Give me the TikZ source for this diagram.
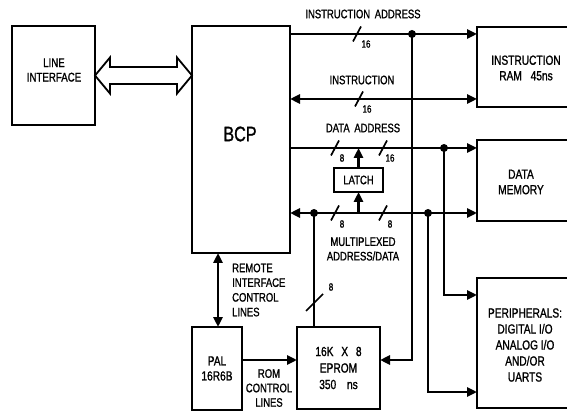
\documentclass[tikz,border=0pt]{standalone}
\usepackage{fontspec}
\setmainfont{Liberation Sans}[FakeStretch=0.77, FakeBold=1.2]
\usetikzlibrary{arrows.meta,calc}
\newcommand{\boxfnt}{\fontsize{13.2}{15.5}\selectfont}
\newcommand{\lblfnt}{\fontsize{12.3}{14.5}\selectfont}
\newcommand{\numfnt}{\fontsize{10.5}{11}\selectfont}
\newcommand{\bigfnt}{\fontsize{21}{22}\selectfont}
\begin{document}
\begin{tikzpicture}[x=1pt,y=-1pt,
  box/.style={draw, line width=2.6pt, outer sep=0pt, inner sep=0pt, align=center, font=\boxfnt},
  bus/.style={line width=2.6pt},
  tipend/.style={-{Triangle[length=10pt,width=9pt]}},
  tipboth/.style={{Triangle[length=10pt,width=9pt]}-{Triangle[length=10pt,width=9pt]}},
  txt/.style={align=center, font=\boxfnt, inner sep=0pt},
  lbl/.style={align=center, font=\lblfnt, inner sep=0pt},
  num/.style={font=\numfnt, inner sep=0pt},
  dot/.style={fill=black},
  busslash/.pic={\draw[line width=1.7pt] (-4,7.5) -- (4,-7.5);},
  wideslash/.pic={\draw[line width=1.7pt] (-8.5,8.5) -- (8.5,-8.5);}
]
\useasboundingbox (0,0) rectangle (567,411);
\clip (0,0) rectangle (567,411);

% levels
\coordinate (yIA) at (0,34);
\coordinate (yI) at (0,99);
\coordinate (yDA) at (0,148);
\coordinate (yM) at (0,213);
\coordinate (yE) at (0,360);
\coordinate (yP1) at (0,295);
\coordinate (yP2) at (0,392);
\coordinate (xr) at (218,0);

% boxes
\node[box, minimum width=83pt, minimum height=99pt] (li) at (53.5,75.5) {};
\node[txt, font=\fontsize{12.6}{14.5}\selectfont] at (54,70) {LINE\\INTERFACE};
\node[box, minimum width=98pt, minimum height=227pt] (bcp) at (241,139.5) {};
\node[font=\bigfnt, inner sep=0pt] at (240,134) {BCP};
\node[box, minimum width=103pt, minimum height=80pt] (iram) at (528.5,67) {};
\node[txt] at (526,68) {INSTRUCTION\\RAM\hspace{6pt} 45ns};
\node[box, minimum width=103pt, minimum height=81pt] (dmem) at (528.5,180.5) {};
\node[txt] at (521,182) {DATA\\MEMORY};
\node[box, minimum width=103pt, minimum height=130pt] (peri) at (528.5,343) {};
\node[txt, font=\fontsize{13.2}{16}\selectfont] at (525,345) {PERIPHERALS:\\DIGITAL I/O\\ANALOG I/O\\AND/OR\\UARTS};
\node[box, minimum width=49pt, minimum height=24pt, font=\lblfnt] (latch) at (358.5,180) {LATCH};
\node[box, minimum width=50pt, minimum height=83pt, font=\fontsize{13.2}{15}\selectfont] (pal) at (217,368.5) {PAL\\16R6B};
\node[box, minimum width=83pt, minimum height=82pt, font=\fontsize{13.2}{16.5}\selectfont] (eprom) at (338.5,368) {16K\hspace{5pt} X\hspace{5pt} 8\\EPROM\\350\hspace{8pt} ns};

% hollow double arrow
\path (li.east) coordinate (da1) (bcp.west |- li.east) coordinate (da2);
\draw[line width=1.8pt, line join=miter]
  (da1) -- ($(da1)+(15,-18)$) -- ($(da1)+(15,-8.5)$) -- ($(da2)+(-15,-8.5)$)
  -- ($(da2)+(-15,-18)$) -- (da2) -- ($(da2)+(-15,18)$) -- ($(da2)+(-15,8.5)$)
  -- ($(da1)+(15,8.5)$) -- ($(da1)+(15,18)$) -- cycle;

% buses
\draw[bus, tipend] (bcp.east |- yIA) -- (iram.west |- yIA);
\draw[bus, tipboth] (bcp.east |- yI) -- (iram.west |- yI);
\draw[bus, tipend] (bcp.east |- yDA) -- (dmem.west |- yDA);
\draw[bus, tipboth] (bcp.east |- yM) -- (dmem.west |- yM);

\coordinate (j1) at (412,34);
\coordinate (j2) at (444,148);
\coordinate (j3) at (314,213);
\coordinate (j4) at (428,213);
\draw[bus, tipend] (j1) |- (eprom.east |- yE);
\draw[bus, tipend] (j2) |- (peri.west |- yP1);
\draw[bus] (j3) -- (j3 |- eprom.north);
\draw[bus, tipend] (j4) |- (peri.west |- yP2);
\foreach \j in {j1,j2,j3,j4} \fill[dot] (\j) circle (4pt);

\draw[bus, tipend] (latch.north) -- (latch.north |- yDA);
\draw[bus, tipend] (latch.south |- yM) -- (latch.south);

\draw[bus, tipboth] (bcp.south -| xr) -- (pal.north -| xr);
\draw[bus, tipend] (pal.east |- yE) -- (eprom.west |- yE);

% bus width marks
\pic at (357,34) {busslash};
\node[num] at (366,44) {16};
\pic at (359,99) {busslash};
\node[num] at (367,109) {16};
\pic at (335,148) {busslash};
\node[num] at (342,158) {8};
\pic at (383,148) {busslash};
\node[num] at (390,158) {16};
\pic at (335,213) {busslash};
\node[num] at (342,224) {8};
\pic at (383,213) {busslash};
\node[num] at (390,224) {8};
\pic at (314.5,302.5) {wideslash};
\node[num] at (331,287) {8};

% labels
\node[lbl] at (363,14) {INSTRUCTION\hspace{2pt} ADDRESS};
\node[lbl] at (362,80) {INSTRUCTION};
\node[lbl] at (363,128) {DATA\hspace{2pt} ADDRESS};
\node[lbl] at (363,249) {MULTIPLEXED\\ADDRESS/DATA};
\node[lbl, align=left, anchor=west, font=\fontsize{12.3}{14.7}\selectfont] at (232,290) {REMOTE\\INTERFACE\\CONTROL\\LINES};
\node[lbl] at (269,388) {ROM\\CONTROL\\LINES};
\end{tikzpicture}
\end{document}
